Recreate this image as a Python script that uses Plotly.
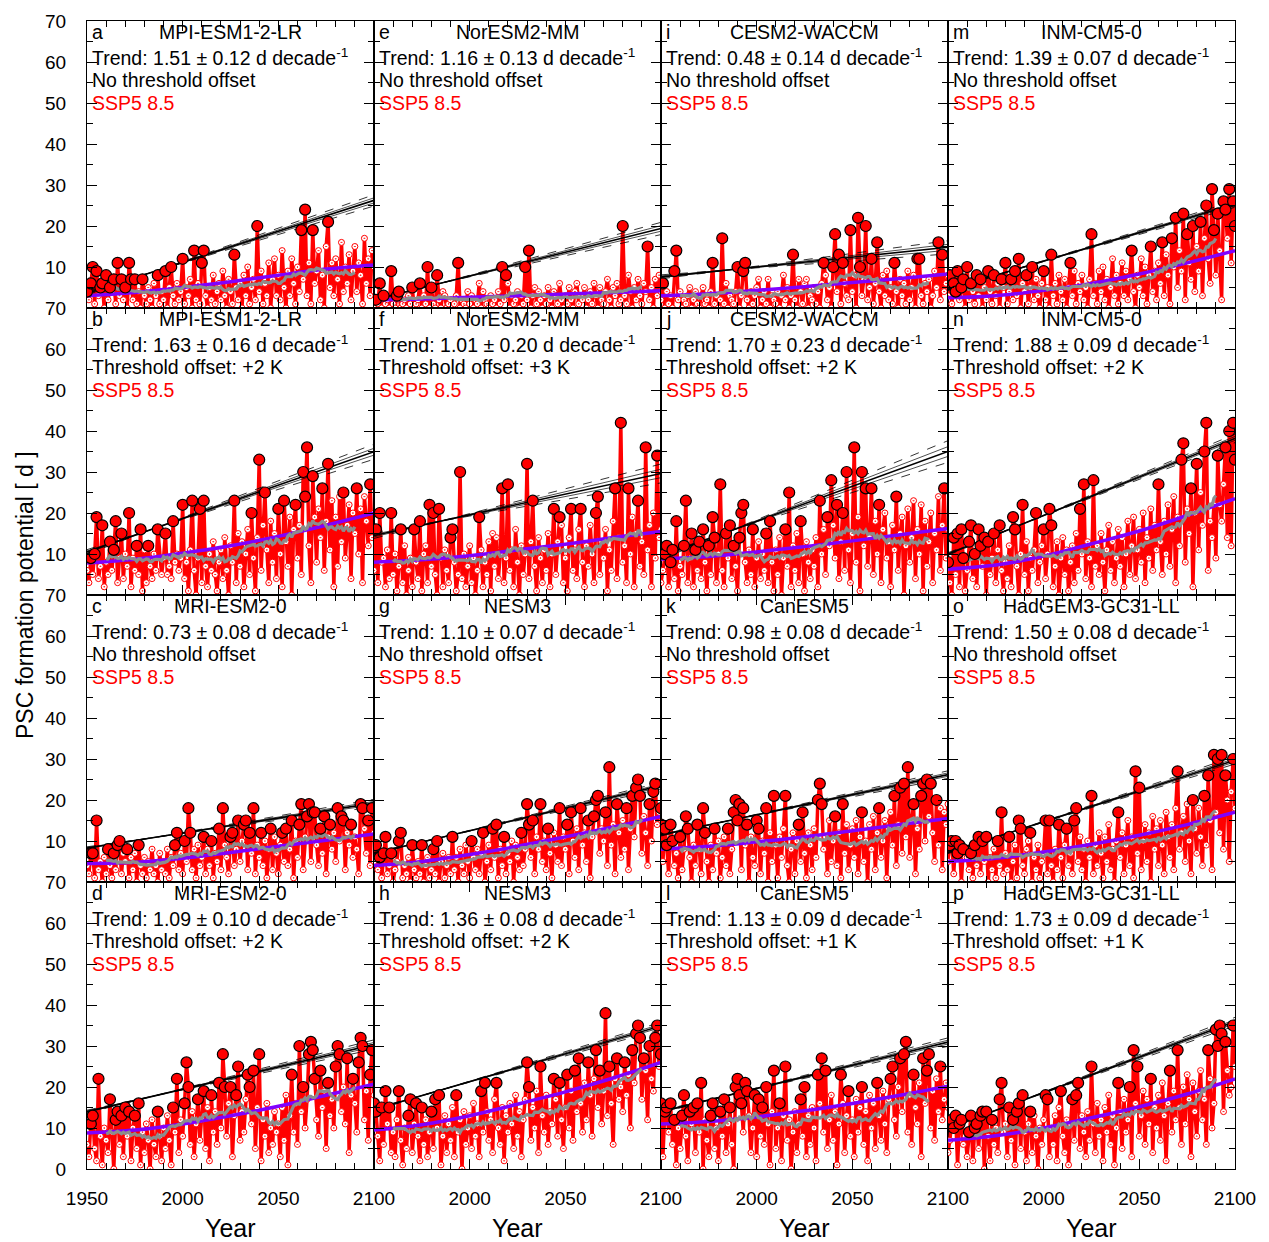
import numpy as np
import plotly.graph_objects as go
from plotly.subplots import make_subplots

years = list(range(1950, 2101))
purple_years = [1950, 1975, 2000, 2025, 2050, 2075, 2100]

psc_a = [4, 2, 6, 10, 1, 9, 3, 5, 6, 0,
         8, 2, 5, 4, 7, 1, 11, 3, 7, 2,
         5, 0, 11, 7, 2, 7, 1, 4, 0, 7,
         3, 1, 5, 2, 0, 6, 3, 8, 1, 4,
         2, 9, 0, 5, 10, 3, 1, 6, 2, 4,
         12, 1, 5, 3, 7, 0, 14, 2, 6, 1,
         11, 14, 3, 0, 5, 2, 8, 1, 4, 6,
         2, 9, 3, 0, 7, 4, 1, 13, 5, 2,
         6, 0, 8, 3, 10, 1, 5, 7, 2, 20,
         4, 9, 1, 6, 3, 11, 0, 7, 12, 3,
         8, 2, 14, 5, 0, 9, 3, 12, 6, 1,
         10, 4, 19, 7, 24, 3, 11, 1, 19, 6,
         9, 14, 2, 8, 0, 15, 21, 5, 11, 3,
         12, 7, 1, 16, 4, 10, 6, 13, 2, 9,
         15, 4, 11, 8, 1, 17, 6, 12, 3, 14,
         10]
psc_b = [6, 3, 9, 5, 10, 19, 4, 7, 17, 2,
         8, 5, 13, 6, 11, 18, 3, 9, 15, 4,
         10, 7, 20, 2, 9, 6, 12, 5, 16, 1,
         11, 3, 12, 7, 4, 10, 6, 16, 9, 5,
         9, 15, 5, 7, 4, 18, 8, 10, 6, 9,
         22, 4, 8, 1, 11, 23, 6, 0, 9, 21,
         3, 23, 7, 2, 10, 6, 13, 5, 1, 8,
         11, 4, 14, 6, 0, 12, 8, 23, 3, 15,
         7, 13, 2, 10, 16, 5, 20, 9, 1, 14,
         33, 6, 17, 25, 11, 3, 18, 8, 15, 4,
         21, 10, 2, 23, 13, 7, 19, 0, 16, 22,
         9, 17, 5, 30, 24, 36, 12, 3, 29, 19,
         8, 21, 14, 26, 6, 18, 32, 11, 23, 2,
         19, 7, 24, 13, 25, 9, 17, 22, 4, 20,
         15, 26, 10, 21, 3, 24, 18, 12, 27, 14,
         20]
psc_c = [4, 2, 7, 7, 1, 15, 3, 5, 0, 6,
         2, 8, 4, 1, 7, 3, 9, 10, 2, 7,
         5, 8, 1, 6, 3, 7, 0, 9, 4, 2,
         6, 1, 5, 3, 8, 2, 4, 0, 7, 3,
         5, 2, 8, 1, 6, 4, 9, 12, 3, 7,
         2, 10, 5, 18, 12, 3, 8, 1, 9, 4,
         6, 11, 2, 8, 4, 10, 1, 7, 5, 13,
         3, 18, 9, 6, 2, 11, 12, 4, 8, 15,
         5, 10, 14, 15, 3, 12, 7, 18, 2, 9,
         6, 12, 4, 10, 1, 8, 13, 3, 11, 7,
         2, 9, 12, 5, 13, 4, 8, 15, 1, 10,
         6, 14, 19, 3, 11, 16, 19, 5, 17, 17,
         9, 4, 13, 7, 16, 2, 11, 14, 8, 12,
         5, 18, 10, 16, 15, 3, 12, 9, 14, 6,
         11, 8, 2, 19, 18, 13, 7, 15, 4, 18,
         12]
psc_d = [6, 3, 11, 13, 5, 2, 22, 8, 1, 10,
         7, 4, 17, 9, 0, 12, 14, 6, 13, 3,
         15, 8, 14, 2, 10, 13, 5, 16, 1, 9,
         4, 11, 7, 0, 12, 6, 3, 14, 8, 2,
         10, 5, 13, 7, 1, 15, 9, 22, 4, 12,
         8, 16, 26, 20, 6, 14, 3, 11, 17, 7,
         12, 19, 5, 15, 2, 18, 9, 14, 6, 21,
         10, 28, 20, 8, 16, 20, 3, 13, 18, 25,
         7, 14, 9, 17, 23, 20, 11, 24, 5, 15,
         28, 2, 12, 8, 16, 4, 10, 6, 14, 9,
         11, 3, 15, 7, 18, 1, 13, 23, 9, 16,
         6, 30, 14, 20, 10, 17, 28, 31, 29, 22,
         12, 8, 24, 15, 19, 5, 21, 13, 17, 10,
         25, 30, 28, 14, 20, 11, 27, 4, 18, 22,
         16, 9, 26, 32, 30, 12, 19, 7, 23, 29,
         18]
psc_e = [0, 2, 1, 6, 0, 3, 1, 2, 0, 9,
         1, 0, 3, 4, 0, 1, 2, 0, 3, 1,
         5, 0, 1, 2, 6, 0, 3, 1, 10, 0,
         5, 1, 0, 8, 2, 0, 4, 3, 0, 1,
         2, 0, 1, 3, 11, 0, 2, 1, 0, 4,
         1, 3, 0, 2, 1, 6, 0, 4, 2, 1,
         0, 3, 1, 2, 0, 4, 1, 10, 2, 8,
         6, 0, 3, 1, 2, 4, 0, 3, 1, 10,
         2, 14, 0, 3, 5, 1, 4, 2, 0, 3,
         1, 5, 2, 0, 4, 3, 1, 6, 2, 0,
         3, 1, 5, 2, 0, 4, 6, 1, 3, 2,
         5, 0, 2, 4, 1, 6, 3, 0, 5, 2,
         1, 4, 7, 2, 0, 5, 3, 6, 1, 2,
         20, 3, 1, 8, 4, 0, 5, 2, 7, 3,
         1, 6, 4, 15, 2, 5, 0, 7, 3, 8,
         4]
psc_f = [6, 16, 3, 20, 8, 9, 2, 11, 4, 20,
         5, 10, 1, 7, 16, 3, 12, 0, 6, 9,
         2, 16, 8, 4, 18, 1, 10, 12, 3, 22,
         7, 20, 5, 0, 21, 9, 2, 11, 6, 3,
         14, 16, 8, 1, 5, 30, 4, 10, 2, 7,
         12, 3, 9, 0, 6, 19, 11, 2, 8, 5,
         13, 1, 15, 7, 14, 4, 10, 26, 3, 9,
         27, 6, 11, 2, 16, 8, 0, 12, 5, 10,
         32, 4, 13, 23, 7, 1, 14, 9, 3, 11,
         6, 15, 2, 10, 21, 5, 13, 19, 17, 3,
         9, 1, 14, 21, 6, 11, 4, 16, 21, 8,
         2, 12, 7, 17, 10, 3, 20, 24, 5, 13,
         9, 16, 1, 11, 6, 18, 26, 4, 14, 42,
         8, 12, 3, 26, 10, 19, 2, 15, 23, 7,
         13, 5, 36, 11, 17, 2, 20, 9, 34, 14,
         16]
psc_g = [5, 9, 3, 6, 1, 7, 11, 2, 4, 7,
         0, 3, 5, 10, 12, 1, 4, 2, 6, 0,
         9, 3, 1, 5, 2, 9, 0, 4, 6, 1,
         3, 8, 2, 10, 0, 5, 7, 1, 4, 6,
         2, 11, 3, 6, 0, 8, 4, 2, 9, 5,
         1, 10, 6, 3, 8, 2, 7, 12, 0, 5,
         9, 3, 13, 6, 14, 1, 8, 4, 11, 2,
         7, 5, 10, 0, 9, 6, 3, 12, 4, 8,
         19, 14, 6, 15, 2, 11, 8, 19, 5, 10,
         3, 13, 7, 1, 12, 9, 5, 18, 4, 11,
         8, 14, 2, 17, 10, 6, 13, 3, 18, 9,
         12, 5, 15, 1, 11, 16, 20, 21, 7, 13,
         10, 17, 4, 28, 9, 14, 2, 19, 12, 6,
         15, 8, 18, 3, 13, 21, 11, 23, 25, 21,
         7, 16, 12, 4, 19, 10, 22, 24, 14, 17,
         18]
psc_h = [16, 14, 8, 2, 15, 6, 19, 11, 15, 4,
         9, 3, 12, 19, 7, 1, 10, 5, 13, 17,
         4, 11, 16, 8, 2, 15, 6, 12, 3, 9,
         14, 5, 17, 10, 18, 1, 8, 13, 4, 11,
         7, 15, 3, 18, 9, 12, 0, 14, 6, 10,
         13, 5, 16, 8, 11, 3, 19, 9, 21, 14,
         7, 12, 4, 17, 21, 10, 6, 15, 2, 13,
         9, 16, 11, 5, 18, 8, 14, 3, 12, 17,
         26, 20, 7, 15, 10, 19, 4, 25, 13, 9,
         18, 6, 14, 11, 22, 17, 8, 21, 12, 5,
         15, 23, 10, 19, 7, 24, 14, 27, 16, 9,
         21, 12, 26, 18, 8, 22, 29, 15, 24, 11,
         19, 38, 13, 25, 16, 6, 22, 27, 17, 20,
         14, 26, 18, 23, 10, 29, 21, 33, 35, 32,
         17, 27, 24, 12, 30, 22, 19, 32, 35, 25,
         28]
psc_i = [2, 6, 0, 4, 1, 3, 0, 9, 14, 2,
         4, 0, 2, 1, 3, 5, 0, 2, 4, 1,
         0, 3, 5, 1, 2, 0, 4, 11, 1, 3,
         0, 2, 17, 1, 6, 0, 3, 2, 1, 4,
         10, 0, 3, 9, 11, 2, 0, 4, 1, 3,
         5, 7, 0, 2, 4, 1, 7, 0, 3, 2,
         1, 4, 0, 3, 8, 2, 5, 0, 3, 13,
         2, 0, 7, 4, 1, 6, 7, 0, 3, 2,
         5, 1, 4, 0, 6, 11, 8, 2, 5, 0,
         10, 18, 4, 13, 1, 11, 6, 3, 2, 19,
         4, 8, 0, 22, 10, 3, 7, 20, 2, 5,
         12, 1, 6, 16, 4, 0, 8, 3, 9, 2,
         5, 1, 11, 4, 0, 7, 3, 6, 1, 9,
         2, 5, 8, 0, 12, 12, 3, 1, 6, 4,
         7, 0, 3, 9, 5, 16, 2, 13, 4, 6,
         8]
psc_j = [3, 6, 10, 12, 2, 8, 11, 4, 18, 1,
         7, 5, 12, 23, 3, 9, 15, 2, 11, 6,
         13, 4, 16, 8, 1, 12, 5, 19, 14, 3,
         10, 27, 6, 2, 15, 9, 17, 4, 12, 7,
         1, 14, 20, 22, 8, 3, 11, 5, 16, 2,
         9, 13, 4, 10, 6, 15, 3, 18, 8, 1,
         11, 5, 14, 0, 9, 16, 7, 25, 2, 12,
         6, 15, 3, 18, 10, 1, 13, 8, 4, 11,
         7, 14, 2, 23, 10, 16, 5, 19, 12, 28,
         17, 9, 22, 4, 13, 20, 6, 30, 11, 3,
         15, 36, 8, 19, 1, 30, 12, 26, 7, 14,
         26, 5, 18, 10, 22, 3, 16, 20, 9, 13,
         2, 17, 11, 24, 6, 15, 19, 0, 12, 21,
         8, 14, 23, 4, 16, 10, 22, 1, 18, 7,
         13, 20, 3, 15, 11, 24, 6, 17, 26, 9,
         16]
psc_k = [14, 5, 13, 9, 2, 14, 10, 4, 7, 1,
         11, 3, 8, 16, 13, 6, 0, 9, 4, 14,
         8, 2, 18, 12, 5, 0, 9, 3, 13, 7,
         10, 1, 6, 11, 4, 13, 2, 8, 17, 20,
         15, 19, 3, 18, 9, 14, 0, 11, 6, 4,
         15, 13, 2, 10, 7, 18, 0, 12, 5, 21,
         9, 1, 11, 6, 13, 21, 4, 0, 8, 12,
         2, 10, 14, 5, 17, 7, 1, 12, 9, 3,
         13, 6, 20, 24, 19, 8, 11, 2, 15, 5,
         10, 16, 4, 12, 1, 19, 7, 14, 3, 9,
         13, 6, 15, 2, 11, 17, 5, 10, 0, 14,
         8, 16, 3, 12, 18, 6, 10, 15, 1, 13,
         17, 9, 21, 4, 14, 23, 7, 24, 11, 28,
         6, 15, 19, 2, 13, 8, 21, 24, 10, 25,
         16, 24, 12, 5, 20, 9, 18, 3, 17, 14,
         19]
psc_l = [16, 3, 14, 15, 9, 16, 6, 12, 1, 10,
         5, 13, 18, 8, 2, 14, 11, 15, 4, 16,
         9, 21, 0, 12, 7, 3, 13, 16, 5, 10,
         2, 14, 8, 17, 4, 11, 15, 6, 0, 20,
         22, 18, 16, 9, 21, 19, 13, 4, 10, 18,
         3, 17, 8, 15, 6, 20, 11, 1, 14, 24,
         5, 10, 16, 2, 13, 25, 7, 12, 0, 9,
         14, 4, 11, 17, 8, 20, 3, 13, 6, 15,
         10, 2, 23, 16, 27, 9, 24, 5, 12, 18,
         7, 14, 1, 11, 23, 16, 4, 13, 19, 8,
         12, 3, 17, 9, 15, 20, 6, 14, 2, 18,
         10, 16, 5, 21, 13, 7, 19, 11, 4, 17,
         22, 25, 12, 8, 20, 27, 14, 28, 31, 9,
         18, 6, 23, 15, 11, 21, 3, 27, 16, 24,
         28, 10, 19, 7, 22, 14, 25, 12, 17, 21,
         15]
psc_m = [3, 8, 1, 6, 4, 9, 2, 5, 7, 0,
         10, 2, 6, 4, 1, 8, 3, 7, 0, 5,
         2, 9, 4, 1, 8, 3, 6, 0, 7, 5,
         11, 1, 4, 7, 2, 9, 3, 12, 0, 6,
         4, 8, 1, 5, 10, 2, 7, 3, 0, 6,
         9, 2, 5, 0, 13, 3, 6, 1, 8, 4,
         2, 7, 0, 5, 11, 3, 9, 1, 6, 4,
         8, 2, 5, 0, 7, 18, 3, 6, 1, 9,
         4, 10, 2, 7, 0, 5, 12, 3, 8, 1,
         6, 11, 3, 9, 2, 7, 14, 4, 0, 8,
         5, 12, 3, 10, 1, 8, 15, 4, 9, 2,
         11, 6, 16, 3, 13, 8, 1, 17, 10, 22,
         5, 14, 9, 23, 2, 18, 11, 7, 20, 4,
         15, 9, 21, 3, 17, 25, 12, 6, 29, 19,
         8, 23, 14, 2, 26, 24, 17, 29, 11, 26,
         20]
psc_n = [8, 3, 0, 14, 5, 15, 2, 16, 9, 1,
         6, 13, 17, 4, 10, 2, 16, 12, 7, 14,
         0, 13, 5, 9, 15, 3, 11, 17, 6, 1,
         8, 4, 12, 2, 19, 16, 7, 0, 10, 22,
         5, 13, 1, 9, 6, 11, 20, 3, 8, 12,
         16, 4, 10, 21, 17, 2, 7, 13, 0, 9,
         14, 5, 11, 1, 8, 12, 3, 15, 6, 21,
         10, 27, 4, 13, 9, 2, 28, 7, 12, 5,
         15, 8, 1, 11, 17, 6, 13, 3, 9, 16,
         7, 14, 2, 10, 18, 5, 12, 19, 4, 11,
         16, 8, 20, 3, 14, 9, 21, 6, 17, 11,
         27, 13, 5, 18, 10, 22, 7, 16, 24, 3,
         19, 12, 33, 37, 8, 21, 15, 26, 2, 20,
         32, 11, 25, 17, 35, 42, 6, 18, 14, 22,
         9, 34, 22, 18, 27, 36, 14, 40, 12, 42,
         33]
psc_o = [5, 9, 10, 2, 10, 7, 9, 0, 8, 6,
         6, 3, 7, 1, 9, 4, 11, 2, 10, 5,
         11, 0, 6, 3, 8, 1, 10, 4, 17, 2,
         7, 3, 11, 0, 5, 9, 1, 15, 13, 4,
         2, 8, 10, 12, 0, 6, 3, 9, 1, 5,
         7, 15, 2, 15, 4, 0, 8, 3, 14, 6,
         1, 9, 13, 4, 7, 2, 15, 18, 5, 11,
         3, 8, 0, 10, 6, 21, 2, 9, 4, 12,
         7, 1, 11, 5, 14, 3, 8, 0, 10, 17,
         6, 12, 2, 9, 15, 4, 11, 1, 27, 7,
         23, 3, 10, 14, 5, 12, 0, 16, 8, 13,
         4, 15, 9, 2, 17, 11, 6, 14, 3, 18,
         27, 8, 12, 16, 5, 19, 10, 2, 20, 13,
         7, 18, 11, 4, 21, 9, 26, 15, 3, 31,
         17, 30, 12, 31, 8, 26, 20, 5, 22, 30,
         18]
psc_p = [4, 7, 12, 10, 13, 1, 11, 12, 6, 8,
         3, 9, 13, 2, 10, 11, 5, 13, 14, 0,
         14, 8, 2, 12, 6, 10, 4, 17, 21, 9,
         11, 3, 15, 7, 12, 1, 14, 16, 5, 18,
         9, 2, 11, 14, 4, 13, 8, 0, 10, 6,
         12, 18, 17, 3, 10, 6, 13, 2, 15, 19,
         8, 4, 12, 1, 11, 17, 7, 18, 21, 5,
         13, 9, 3, 14, 7, 25, 11, 4, 16, 8,
         12, 2, 15, 9, 18, 6, 13, 1, 10, 21,
         14, 5, 17, 9, 12, 20, 3, 29, 16, 25,
         8, 13, 19, 6, 17, 11, 22, 4, 15, 10,
         18, 7, 21, 13, 2, 16, 24, 9, 19, 12,
         29, 15, 6, 20, 11, 23, 17, 3, 21, 14,
         8, 19, 24, 12, 17, 6, 29, 22, 10, 16,
         34, 30, 35, 33, 14, 31, 24, 18, 20, 35,
         25]

# smooth fitted curve (purple) sampled at purple_years
fit_a = [3, 3.8, 5, 6.4, 8, 9.5, 10.5]
fit_b = [7.8, 8.7, 10.2, 12, 14.3, 17, 20]
fit_c = [4.5, 4.8, 5.8, 7.2, 8.7, 10.2, 11.7]
fit_d = [8.8, 9.5, 11, 13, 15.3, 18, 20.7]
fit_e = [2, 2.2, 2.6, 3, 3.4, 3.8, 4.2]
fit_f = [8, 8.6, 9.6, 11, 12.4, 14, 15.5]
fit_g = [4, 5, 6.7, 8.7, 11, 13.4, 16]
fit_h = [9.5, 10.8, 13, 15.8, 18.8, 22.2, 26]
fit_i = [3, 3.5, 4.3, 5.2, 6.2, 7.2, 8.3]
fit_j = [8.8, 9.4, 10.5, 11.8, 13.2, 14.7, 16.2]
fit_k = [8, 8.7, 9.8, 11, 12.5, 14, 15.5]
fit_l = [11, 11.6, 12.7, 14.2, 16, 18, 20.2]
fit_m = [2.5, 3, 4.3, 6, 8.3, 11, 14]
fit_n = [6.3, 7.3, 9.5, 12.5, 15.6, 19.4, 23.5]
fit_o = [5, 5.8, 7.3, 9.2, 11.4, 14, 17]
fit_p = [7, 8.1, 10, 12.5, 15.2, 18.3, 22]

letters = list("abcdefghijklmnop")
models = ["MPI-ESM1-2-LR", "MPI-ESM1-2-LR", "MRI-ESM2-0", "MRI-ESM2-0",
          "NorESM2-MM", "NorESM2-MM", "NESM3", "NESM3",
          "CESM2-WACCM", "CESM2-WACCM", "CanESM5", "CanESM5",
          "INM-CM5-0", "INM-CM5-0", "HadGEM3-GC31-LL", "HadGEM3-GC31-LL"]
trends = [1.51, 1.63, 0.73, 1.09, 1.16, 1.01, 1.10, 1.36,
          0.48, 1.70, 0.98, 1.13, 1.39, 1.88, 1.50, 1.73]
trend_err = [0.12, 0.16, 0.08, 0.10, 0.13, 0.20, 0.07, 0.08,
             0.14, 0.23, 0.08, 0.09, 0.07, 0.09, 0.08, 0.09]
offsets = [None, "+2 K", None, "+2 K", None, "+3 K", None, "+2 K",
           None, "+2 K", None, "+1 K", None, "+2 K", None, "+1 K"]
trend_start = [3.6, 10.5, 8.3, 14.0, 2.0, 14.5, 7.0, 14.5,
               7.6, 9.5, 11.5, 14.0, 4.5, 10.0, 7.2, 10.0]
series = [psc_a, psc_b, psc_c, psc_d, psc_e, psc_f, psc_g, psc_h,
          psc_i, psc_j, psc_k, psc_l, psc_m, psc_n, psc_o, psc_p]
fits = [fit_a, fit_b, fit_c, fit_d, fit_e, fit_f, fit_g, fit_h,
        fit_i, fit_j, fit_k, fit_l, fit_m, fit_n, fit_o, fit_p]
for s in series:
    assert len(s) == len(years)

FONT = "Liberation Sans, Arial, Helvetica, sans-serif"
W, H = 1269, 1242
L, R, T, B = 87, 34, 21, 73

fig = make_subplots(rows=4, cols=4, horizontal_spacing=0, vertical_spacing=0)

yrs = np.array(years, dtype=float)
for idx in range(16):
    col = idx // 4 + 1
    row = idx % 4 + 1
    vals = np.array(series[idx], dtype=float)
    # red yearly series
    fig.add_trace(go.Scatter(x=years, y=vals, mode="lines+markers",
                             line=dict(color="#ff0000", width=3.5),
                             marker=dict(symbol="circle-dot", size=6, color="white",
                                         line=dict(color="#ff0000", width=1)),
                             showlegend=False, hoverinfo="skip"), row=row, col=col)
    # purple fitted curve
    fig.add_trace(go.Scatter(x=purple_years, y=fits[idx], mode="lines",
                             line=dict(color="#8000ff", width=3.5, shape="spline", smoothing=1.0),
                             showlegend=False, hoverinfo="skip"), row=row, col=col)
    # gray 21-year running mean
    k = 21
    rm = np.convolve(vals, np.ones(k) / k, mode="valid")
    fig.add_trace(go.Scatter(x=yrs[10:-10], y=rm, mode="lines",
                             line=dict(color="#8c8c8c", width=3.2),
                             showlegend=False, hoverinfo="skip"), row=row, col=col)
    # trend lines
    pivot = 1985
    a0 = trend_start[idx]
    s0 = trends[idx] / 10.0
    e0 = trend_err[idx] / 10.0
    def line_vals(slope):
        c = a0 + s0 * (pivot - 1950)
        return [c + slope * (1950 - pivot), c + slope * (2100 - pivot)]
    for sl, dash, wd in [(s0 + e0, "dash", 0.8), (s0 - e0, "dash", 0.8),
                         (s0 + 0.45 * e0, "solid", 0.7), (s0 - 0.45 * e0, "solid", 0.7),
                         (s0, "solid", 1.6)]:
        fig.add_trace(go.Scatter(x=[1950, 2100], y=line_vals(sl), mode="lines",
                                 line=dict(color="black", width=wd, dash=dash),
                                 showlegend=False, hoverinfo="skip"), row=row, col=col)
    # extreme years (big circles)
    tl = a0 + s0 * (yrs - 1950)
    sel = vals >= 0.75 * tl
    fig.add_trace(go.Scatter(x=yrs[sel], y=vals[sel], mode="markers",
                             marker=dict(symbol="circle", size=11, color="#ff0000",
                                         line=dict(color="black", width=1.2)),
                             showlegend=False, hoverinfo="skip"), row=row, col=col)

    # annotations
    n = (row - 1) * 4 + col
    xs = "x" if n == 1 else f"x{n}"
    ys = "y" if n == 1 else f"y{n}"
    xr, yr = xs + " domain", ys + " domain"
    ph = 287.0
    def yy(px):
        return 1 - px / ph
    fs = 19.5
    x0 = 2.5 / ph
    fig.add_annotation(x=x0, y=yy(11), xref=xr, yref=yr, text=letters[idx],
                       showarrow=False, xanchor="left", yanchor="middle",
                       font=dict(family=FONT, size=fs, color="black"))
    fig.add_annotation(x=0.5, y=yy(11), xref=xr, yref=yr, text=models[idx],
                       showarrow=False, xanchor="center", yanchor="middle",
                       font=dict(family=FONT, size=fs, color="black"))
    fig.add_annotation(x=x0, y=yy(36), xref=xr, yref=yr,
                       text=f"Trend: {trends[idx]:.2f} \u00b1 {trend_err[idx]:.2f} d decade<sup>-1</sup>",
                       showarrow=False, xanchor="left", yanchor="middle",
                       font=dict(family=FONT, size=fs, color="black"))
    off = "No threshold offset" if offsets[idx] is None else f"Threshold offset: {offsets[idx]}"
    fig.add_annotation(x=x0, y=yy(59), xref=xr, yref=yr, text=off,
                       showarrow=False, xanchor="left", yanchor="middle",
                       font=dict(family=FONT, size=fs, color="black"))
    fig.add_annotation(x=x0, y=yy(82), xref=xr, yref=yr, text="SSP5 8.5",
                       showarrow=False, xanchor="left", yanchor="middle",
                       font=dict(family=FONT, size=fs, color="#ff0000"))

# axes
for row in range(1, 5):
    for col in range(1, 5):
        if col == 1:
            xv = [1950, 2000, 2050, 2100]
        else:
            xv = [2000, 2050, 2100]
        fig.update_xaxes(range=[1950, 2100], tickmode="array", tickvals=xv,
                         ticktext=[str(v) for v in xv], ticks="inside", ticklen=10,
                         tickwidth=1.3, tickcolor="black",
                         minor=dict(tickmode="array", tickvals=list(range(1960, 2100, 10)),
                                    ticks="inside", ticklen=6, tickwidth=1, tickcolor="black"),
                         showline=True, linewidth=1.2, linecolor="black", mirror="allticks",
                         showgrid=False, zeroline=False, showticklabels=(row == 4),
                         ticklabelstandoff=12,
                         tickfont=dict(family=FONT, size=19, color="black"),
                         row=row, col=col)
        yv = list(range(0, 80, 10)) if row == 4 else list(range(10, 80, 10))
        fig.update_yaxes(range=[0, 70], tickmode="array", tickvals=yv,
                         ticktext=[str(v) for v in yv], ticks="inside", ticklen=10,
                         tickwidth=1.3, tickcolor="black",
                         minor=dict(tickmode="array", tickvals=list(range(5, 70, 10)),
                                    ticks="inside", ticklen=6, tickwidth=1, tickcolor="black"),
                         showline=True, linewidth=1.2, linecolor="black", mirror="allticks",
                         showgrid=False, zeroline=False, showticklabels=(col == 1),
                         ticklabelstandoff=16,
                         tickfont=dict(family=FONT, size=19, color="black"),
                         row=row, col=col)

for c in range(4):
    cx = (c + 0.5) / 4.0
    fig.add_annotation(x=cx, y=-(1228 - (H - B)) / (H - T - B), xref="paper", yref="paper",
                       text="Year", showarrow=False, xanchor="center", yanchor="middle",
                       font=dict(family=FONT, size=25, color="black"))

fig.add_annotation(x=-(87 - 25) / (W - L - R), y=0.5, xref="paper", yref="paper",
                   text="PSC formation potential [ d ]", textangle=-90, showarrow=False,
                   xanchor="center", yanchor="middle",
                   font=dict(family=FONT, size=23, color="black"))

fig.update_layout(width=W, height=H, margin=dict(l=L, r=R, t=T, b=B),
                  paper_bgcolor="white", plot_bgcolor="white",
                  font=dict(family=FONT, color="black"))

fig.write_html("out.html")
